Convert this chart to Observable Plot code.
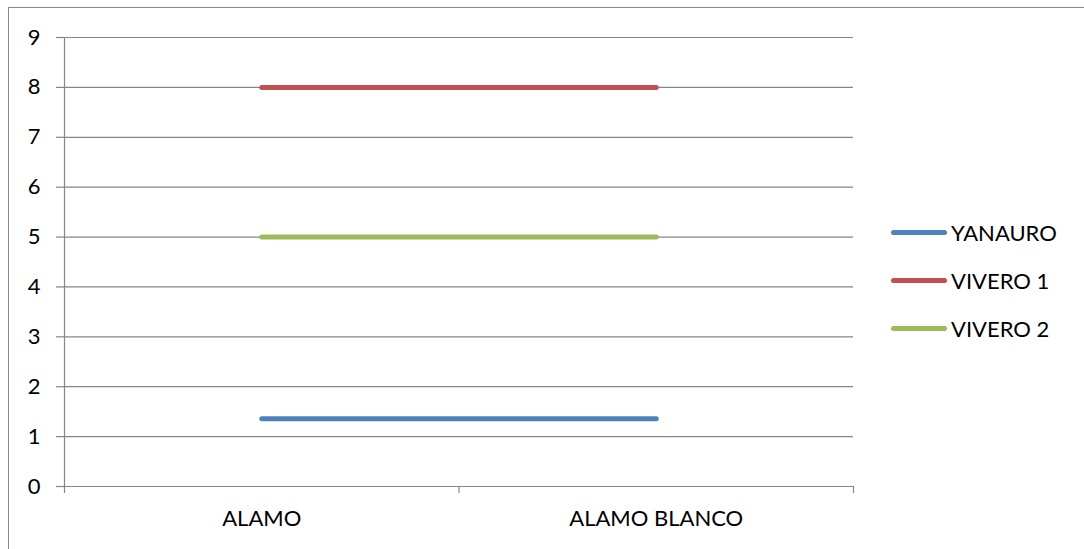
<!DOCTYPE html>
<html>
<head>
<meta charset="utf-8">
<script src="https://cdn.jsdelivr.net/npm/d3@7"></script>
<script src="https://cdn.jsdelivr.net/npm/@observablehq/plot@0.6"></script>
<style>
  html, body { margin: 0; padding: 0; background: #fff; }
  #wrap { position: relative; width: 1084px; height: 549px; overflow: hidden; font-family: Lato, "Open Sans", sans-serif; }
  #frame { position: absolute; left: 8px; top: 7px; width: 1200px; height: 700px; border: 1.5px solid #8a8a8a; box-sizing: border-box; }
  #chart { position: absolute; left: 0; top: 0; }
  #legend { position: absolute; left: 891px; top: 208px; }
  .item { display: flex; align-items: center; height: 48px; font-size: 22px; color: #000; }
  .sw { width: 56px; height: 5px; border-radius: 3px; margin-right: 4px; }
</style>
</head>
<body>
<div id="wrap">
  <div id="frame"></div>
  <div id="chart"></div>
  <div id="legend"></div>
</div>
<script>
const categories = ["ALAMO", "ALAMO BLANCO"];
const seriesNames = ["YANAURO", "VIVERO 1", "VIVERO 2"];
const yanauro = [1.36, 1.36];
const vivero1 = [8, 8];
const vivero2 = [5, 5];
const colors = ["#4F81BD", "#C0504D", "#9BBB59"];
const yTicks = [0, 1, 2, 3, 4, 5, 6, 7, 8, 9];

const seriesValues = [yanauro, vivero1, vivero2];
const data = [];
seriesNames.forEach((s, si) => categories.forEach((c, ci) => data.push({series: s, idx: ci, cat: c, value: seriesValues[si][ci]})));
const catIdx = categories.map((c, i) => i);
const boundaries = [-0.5, ...catIdx.map(i => i + 0.5)];

const chart = Plot.plot({
  width: 1084,
  height: 549,
  marginLeft: 64,
  marginRight: 231,
  marginTop: 37,
  marginBottom: 63,
  style: {fontFamily: "Lato, 'Open Sans', sans-serif", fontSize: "22px", color: "#000", background: "transparent"},
  x: {type: "linear", domain: [-0.5, categories.length - 0.5], axis: null, label: null},
  y: {domain: [0, 9], axis: null, label: null},
  color: {domain: seriesNames, range: colors},
  marks: [
    Plot.ruleY(yTicks.filter(d => d > 0), {y: d => d, stroke: "#868686", strokeWidth: 1.2}),
    Plot.ruleY([0], {stroke: "#868686", strokeWidth: 1.2}),
    Plot.ruleX([-0.5], {stroke: "#868686", strokeWidth: 1.2}),
    Plot.axisY({ticks: yTicks, label: null, tickSize: 8, tickPadding: 16, stroke: "#868686", strokeWidth: 1.2, tickFormat: d => d, fontSize: 22, fill: "#000"}),
    Plot.axisX({ticks: boundaries, label: null, tickSize: 7, tickFormat: () => "", stroke: "#868686", strokeWidth: 1.2}),
    Plot.text(catIdx, {x: d => d, frameAnchor: "bottom", dy: 39, text: d => categories[d], fontSize: 22, fill: "#000"}),
    Plot.line(data, {x: "idx", y: "value", z: "series", stroke: "series", strokeWidth: 5, strokeLinecap: "round"})
  ]
});
document.getElementById("chart").appendChild(chart);

const legend = document.getElementById("legend");
seriesNames.forEach((s, i) => {
  const item = document.createElement("div");
  item.className = "item";
  const sw = document.createElement("div");
  sw.className = "sw";
  sw.style.background = colors[i];
  const t = document.createElement("span");
  t.textContent = s;
  item.appendChild(sw);
  item.appendChild(t);
  legend.appendChild(item);
});
</script>
</body>
</html>
